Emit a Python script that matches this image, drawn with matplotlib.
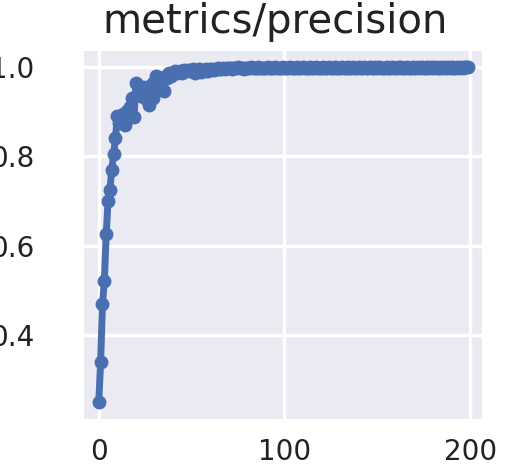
import numpy as np
import matplotlib
matplotlib.use("Agg")
import matplotlib.pyplot as plt
import seaborn as sns

# precision per epoch
precision_early = [
    0.250, 0.340, 0.470, 0.520, 0.625, 0.700, 0.725, 0.770, 0.805, 0.840,
    0.890, 0.875, 0.880, 0.895, 0.870, 0.900, 0.885, 0.910, 0.930, 0.887,
    0.964, 0.940, 0.950, 0.935, 0.955, 0.930, 0.945, 0.915, 0.960, 0.930,
    0.965, 0.980, 0.950, 0.970, 0.975, 0.946, 0.980, 0.975, 0.985, 0.980,
    0.986, 0.990, 0.985, 0.988, 0.990, 0.987, 0.992, 0.990, 0.993, 0.990,
    0.990, 0.994, 0.986, 0.992, 0.995, 0.988, 0.993, 0.990, 0.995, 0.991,
    0.994, 0.996, 0.992, 0.995, 0.997, 0.994, 0.996, 0.998, 0.995, 0.997,
]
precision_late = [
    0.997, 0.998, 0.996, 0.998, 0.997, 0.999, 0.997, 0.998, 0.996, 0.998,
    0.998, 0.997, 0.999, 0.998, 0.997, 0.998, 0.999, 0.997, 0.998, 0.998,
    0.997, 0.999, 0.998, 0.998, 0.997, 0.999, 0.998, 0.997, 0.998, 0.999,
    0.998, 0.997, 0.998, 0.999, 0.998, 0.998, 0.997, 0.999, 0.998, 0.998,
    0.999, 0.998, 0.997, 0.998, 0.999, 0.998, 0.998, 0.999, 0.997, 0.998,
    0.998, 0.999, 0.998, 0.997, 0.999, 0.998, 0.998, 0.999, 0.998, 0.997,
    0.998, 0.999, 0.998, 0.998, 0.999, 0.997, 0.998, 0.999, 0.998, 0.998,
    0.999, 0.998, 0.997, 0.999, 0.998, 0.998, 0.999, 0.998, 0.998, 0.999,
    0.998, 0.999, 0.998, 0.997, 0.998, 0.999, 0.998, 0.998, 0.999, 0.998,
    0.998, 0.999, 0.998, 0.999, 0.998, 0.997, 0.999, 0.998, 0.998, 0.999,
    0.998, 0.998, 0.999, 0.998, 0.999, 0.998, 0.998, 0.999, 0.998, 0.999,
    0.998, 0.999, 0.998, 0.998, 0.999, 0.998, 0.999, 0.998, 0.999, 0.998,
    0.999, 0.998, 0.998, 0.999, 0.998, 0.999, 0.998, 0.999, 0.999, 0.999,
]
precision = precision_early + precision_late
epochs = np.arange(len(precision))

title = "metrics/precision"
xticks = [0, 100, 200]
yticks = [0.4, 0.6, 0.8, 1.0]

sns.set_style("darkgrid")
plt.rcParams['font.family'] = ['DejaVu Sans']

fig = plt.figure(figsize=(5.06, 4.67), dpi=100)
ax = fig.add_axes([0.164, 0.103, 0.789, 0.790])

ax.plot(epochs, precision, color='#4a6fb0', linewidth=5, marker='o',
        markersize=9)

ax.set_xlim(-8.5, 206.5)
ax.set_ylim(0.2125, 1.0375)
ax.set_xticks(xticks)
ax.set_yticks(yticks)
ax.set_yticklabels([f"{v:.1f}" for v in yticks])
ax.grid(True, color='white', linewidth=2.5)
ax.tick_params(axis='both', labelsize=20, colors='#222222', length=0)
ax.tick_params(axis='y', pad=35)
ax.tick_params(axis='x', pad=14)
ax.set_title(title, fontsize=29, color='#222222', pad=12, x=0.48)

fig.savefig("out.png", dpi=100)
